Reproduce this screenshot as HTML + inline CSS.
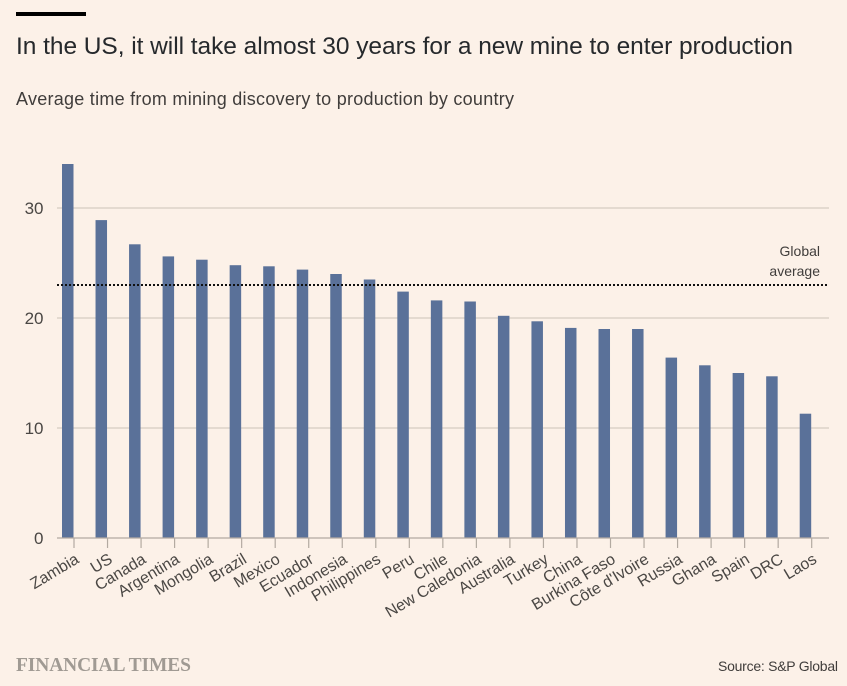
<!DOCTYPE html>
<html lang="en">
<head>
<meta charset="utf-8">
<title>Time from mining discovery to production</title>
<style>
html,body{margin:0;padding:0;background:#fcf1e8;}
svg{display:block;font-family:"Liberation Sans",sans-serif;}
</style>
</head>
<body>
<svg id="chart" width="847" height="686" viewBox="0 0 847 686" xmlns="http://www.w3.org/2000/svg">
  <rect width="847" height="686" fill="#fcf1e8"/>
  <rect x="16" y="12" width="70" height="4" fill="#000"/>
  <text x="16" y="54" font-size="24.5" fill="#26292c" textLength="777" lengthAdjust="spacing">In the US, it will take almost 30 years for a new mine to enter production</text>
  <text x="16" y="105" font-size="18" fill="#403d3b" textLength="498" lengthAdjust="spacing">Average time from mining discovery to production by country</text>
  <g id="gridlines"></g>
  <g id="bars"></g>
  <g id="y-axis"></g>
  <g id="x-axis"></g>
  <g id="average"></g>
  <text x="820" y="256" font-size="14" fill="#403d3b" text-anchor="end">Global</text>
  <text x="820" y="276" font-size="14" fill="#403d3b" text-anchor="end">average</text>
  <text x="16" y="671" font-family="'Liberation Serif',serif" font-weight="700" font-size="19.5" fill="#a09a93" textLength="175" lengthAdjust="spacing">FINANCIAL TIMES</text>
  <text x="838" y="671" font-size="14" fill="#403d3b" text-anchor="end" textLength="120" lengthAdjust="spacing">Source: S&amp;P Global</text>
</svg>
<script>
const countries = ["Zambia","US","Canada","Argentina","Mongolia","Brazil","Mexico","Ecuador","Indonesia","Philippines","Peru","Chile","New Caledonia","Australia","Turkey","China","Burkina Faso","Côte d'Ivoire","Russia","Ghana","Spain","DRC","Laos"];
const years = [34,28.9,26.7,25.6,25.3,24.8,24.7,24.4,24,23.5,22.4,21.6,21.5,20.2,19.7,19.1,19,19,16.4,15.7,15,14.7,11.3];
const yTicks = [0,10,20,30];
const globalAverage = 23;

const NS = "http://www.w3.org/2000/svg";
function yScale(v){ return 538 - v * 11; }
function xTick(i){ return 74 + i * (811.7 - 74) / (countries.length - 1); }
function add(parent, tag, attrs){
  const el = document.createElementNS(NS, tag);
  for (const k in attrs) el.setAttribute(k, attrs[k]);
  document.getElementById(parent).appendChild(el);
  return el;
}

yTicks.forEach(function(t){
  if (t !== 0) {
    const line = add("gridlines", "line", {x1:57, x2:829, y1:yScale(t), y2:yScale(t), stroke:"#d6ccc2", "stroke-width":1.2});
    
    
  }
  const label = add("y-axis", "text", {x:43.5, y:yScale(t) + 6, "font-size":17, fill:"#4a4744", "text-anchor":"end"});
  label.textContent = t;
  
  
});

years.forEach(function(v, i){
  const bar = add("bars", "rect", {x:xTick(i) - 12, y:yScale(v), width:11.5, height:yScale(0) - yScale(v), fill:"#5a7199"});
  
  
});

const axisLine = add("x-axis", "line", {x1:57, x2:829, y1:yScale(0), y2:yScale(0), stroke:"#b3aaa1", "stroke-width":1.3});



countries.forEach(function(c, i){
  const x = xTick(i);
  const tick = add("x-axis", "line", {x1:x, x2:x, y1:yScale(0), y2:yScale(0) + 10, stroke:"#b3aaa1", "stroke-width":1.2});
  
  
  const lx = x + 6;
  const ly = yScale(0) + 24;
  const label = add("x-axis", "text", {x:lx, y:ly, "font-size":16, fill:"#4a4744", "text-anchor":"end", transform:"rotate(-31 " + lx + " " + ly + ")"});
  label.textContent = c;
  
  
});

const avgLine = add("average", "line", {x1:57, x2:829, y1:yScale(globalAverage), y2:yScale(globalAverage), stroke:"#111", "stroke-width":2, "stroke-dasharray":"2 2"});


</script>
</body>
</html>
